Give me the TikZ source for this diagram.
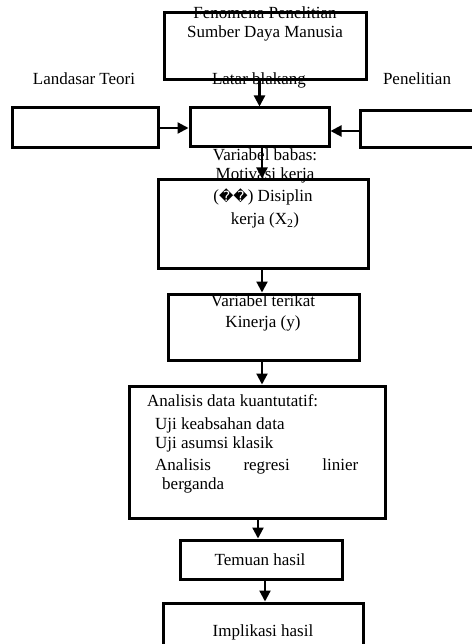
\documentclass[tikz,border=0pt]{standalone}
\usepackage{fontspec}
\setmainfont{Liberation Serif}
\newfontfamily\symfont{DejaVu Sans}
\usetikzlibrary{arrows.meta}
\tikzstyle{stage}=[draw, line width=3pt, inner sep=0]
\tikzstyle{caption}=[inner sep=0, text height=11pt, text depth=3.5pt, font=\fontsize{17}{19}\selectfont]
\tikzstyle{flow}=[line width=2.2pt, -{Triangle[width=11pt,length=11pt]}]

\begin{document}
\begin{tikzpicture}[x=1pt, y=-1pt]
      \useasboundingbox (0, 0) rectangle (471, 644);

      \node[stage, minimum width=202pt, minimum height=67pt] (fenomena) at (265, 46.5) {};
      \node[caption] at (265, 15) {Fenomena Penelitian};
      \node[caption] at (265, 34) {Sumber Daya Manusia};

      \node[caption] (teori_label) at (84, 81) {Landasar Teori};
      \node[caption] (latar_label) at (259, 81) {Latar blakang};
      \node[caption] (penelitian_label) at (417, 81) {Penelitian};

      \node[stage, minimum width=146pt, minimum height=40pt] (teori) at (85, 128) {};
      \node[stage, minimum width=139pt, minimum height=39pt] (latar) at (259.5, 127.5) {};
      \node[stage, minimum width=130pt, minimum height=37pt] (penelitian) at (425, 129.5) {};

      \node[stage, minimum width=210pt, minimum height=88pt] (bebas) at (263, 224) {};
      \node[caption] at (265, 157) {Variabel babas:};
      \node[caption] at (265, 176) {Motivasi kerja};
      \node[caption] at (263, 198) {({\symfont\fontsize{14}{16}\selectfont ��}) Disiplin};
      \node[caption] at (265, 221) {kerja (X\textsubscript{2})};

      \node[stage, minimum width=191pt, minimum height=66pt] (terikat) at (263.5, 327) {};
      \node[caption] at (263, 303) {Variabel terikat};
      \node[caption] at (263, 324) {Kinerja (y)};

      \node[stage, minimum width=256pt, minimum height=132pt] (analisis) at (257, 452) {};
      \node[caption, anchor=west] at (147, 403) {Analisis data kuantutatif:};
      \node[caption, anchor=west] at (155, 426) {Uji keabsahan data};
      \node[caption, anchor=west] at (155, 445) {Uji asumsi klasik};
      \node[caption, anchor=west] at (155, 467) {\makebox[203pt][s]{Analisis\hfill regresi\hfill linier}};
      \node[caption, anchor=west] at (162, 486) {berganda};

      \node[stage, minimum width=162pt, minimum height=39pt] (temuan) at (261, 559.5) {};
      \node[caption] at (260, 562) {Temuan hasil};

      \node[stage, minimum width=200pt, minimum height=50pt] (implikasi) at (263, 628) {};
      \node[caption] at (263, 633) {Implikasi hasil};

      \draw[flow] (latar.north |- fenomena.south) to (latar.north);
      \draw[flow] (teori.east) to (latar.west |- teori.east);
      \draw[flow] (penelitian.west |- 0, 131) to (latar.east |- 0, 131);
      \draw[flow] (262, 0 |- latar.south) to (262, 0 |- bebas.north);
      \draw[flow] (262, 0 |- bebas.south) to (262, 0 |- terikat.north);
      \draw[flow] (262, 0 |- terikat.south) to (262, 0 |- analisis.north);
      \draw[flow] (258, 0 |- analisis.south) to (258, 0 |- temuan.north);
      \draw[flow] (265, 0 |- temuan.south) to (265, 0 |- implikasi.north);
    \end{tikzpicture}
\end{document}
